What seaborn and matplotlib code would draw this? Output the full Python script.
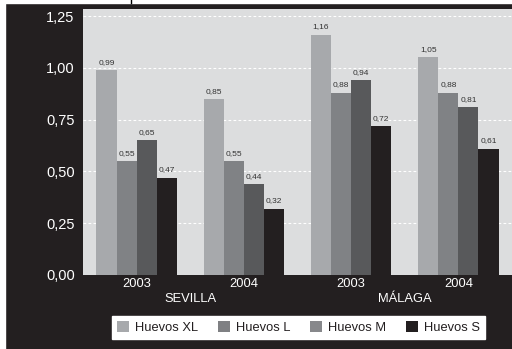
import numpy as np
import pandas as pd
import seaborn as sns
import matplotlib.pyplot as plt
from matplotlib.patches import Patch, Rectangle

# Datos del gráfico
ciudades = ['SEVILLA', 'SEVILLA', 'MÁLAGA', 'MÁLAGA']
anios = ['2003', '2004', '2003', '2004']
tipos = ['Huevos XL', 'Huevos L', 'Huevos M', 'Huevos S']
huevos_xl = [0.99, 0.85, 1.16, 1.05]
huevos_l = [0.55, 0.55, 0.88, 0.88]
huevos_m = [0.65, 0.44, 0.94, 0.81]
huevos_s = [0.47, 0.32, 0.72, 0.61]
yticks = [0.0, 0.25, 0.5, 0.75, 1.0, 1.25]

colores = ['#a7a9ac', '#808285', '#58595b', '#231f20']
colores_leyenda = ['#a7a9ac', '#7f8083', '#87888b', '#231f20']
fondo = '#231f20'

# Tabla larga para seaborn
grupos = [f'{c} {a}' for c, a in zip(ciudades, anios)]
df = pd.DataFrame({
    'grupo': np.tile(grupos, 4),
    'tipo': np.repeat(tipos, 4),
    'valor': huevos_xl + huevos_l + huevos_m + huevos_s,
})

plt.rcParams['font.family'] = ['Liberation Sans', 'DejaVu Sans']

fig = plt.figure(figsize=(5.12, 3.49), dpi=100, facecolor=fondo)
ax = fig.add_axes([83 / 512, 1 - 275 / 349, 1 - 83 / 512, 266 / 349])
ax.set_facecolor('#dcddde')

sns.barplot(data=df, x='grupo', y='valor', hue='tipo', order=grupos, hue_order=tipos,
            palette=colores, width=0.75, gap=0, saturation=1, legend=False, ax=ax, zorder=3)

for cont in ax.containers:
    etiquetas = [f'{b.get_height():.2f}'.replace('.', ',') for b in cont]
    ax.bar_label(cont, labels=etiquetas, padding=3, fontsize=6, color='#333333')

ax.set_xlim(-0.5, 3.5)
ax.set_ylim(0, 1.284)
ax.set_yticks(yticks)
ax.set_yticklabels([f'{v:.2f}'.replace('.', ',') for v in yticks], color='white', fontsize=10.5)
ax.set_xticks(range(4))
ax.set_xticklabels(anios, color='white', fontsize=9.3)
ax.tick_params(length=0, axis='y', pad=6)
ax.tick_params(length=0, axis='x', pad=2)
ax.set_xlabel('')
ax.set_ylabel('')
for s in ax.spines.values():
    s.set_visible(False)
ax.yaxis.grid(True, color='white', linestyle=(0, (2.5, 2)), linewidth=0.8, zorder=0)
ax.set_axisbelow(True)

# Nombres de ciudades
trans = ax.get_xaxis_transform()
ax.text(0.5, -0.09, 'SEVILLA', transform=trans, ha='center', va='center', color='white', fontsize=9.3)
ax.text(2.5, -0.09, 'MÁLAGA', transform=trans, ha='center', va='center', color='white', fontsize=9.3)

# Leyenda
handles = [Patch(facecolor=c, edgecolor='none') for c in colores_leyenda]
leg = fig.legend(handles, tipos, loc='center', bbox_to_anchor=(298.5 / 512, 1 - 327.5 / 349),
                 ncol=4, fontsize=9.3, frameon=True, fancybox=False, facecolor='white',
                 edgecolor='white', framealpha=1, handlelength=0.95, handleheight=0.95,
                 handletextpad=0.47, columnspacing=1.5, borderpad=0.35, labelcolor=fondo)

# Bordes blancos del recorte
fig.patches.append(Rectangle((0, 0), 5 / 512, 1, transform=fig.transFigure, color='white', zorder=0))
fig.patches.append(Rectangle((0, 1 - 3 / 349), 1, 3 / 349, transform=fig.transFigure, color='white', zorder=0))
fig.lines.append(plt.Line2D([131 / 512, 131 / 512], [1 - 3 / 349, 1], transform=fig.transFigure,
                            color='black', linewidth=1))

fig.savefig('out.png', dpi=100, facecolor=fondo)
